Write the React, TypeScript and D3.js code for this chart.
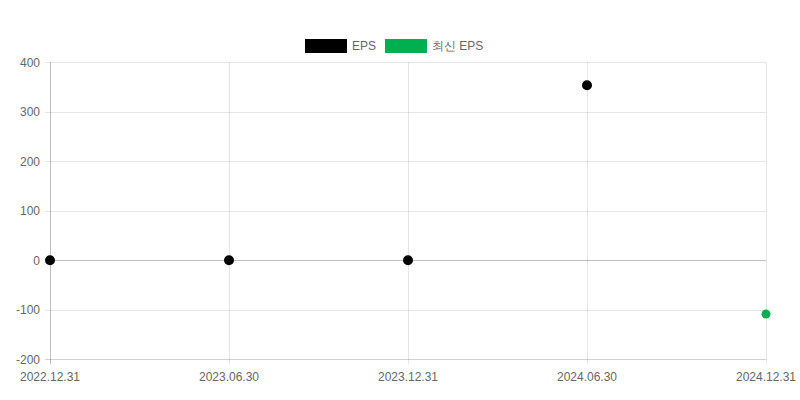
import { useEffect, useRef } from "react"
import * as d3 from "d3"

const categories = ["2022.12.31", "2023.06.30", "2023.12.31", "2024.06.30", "2024.12.31"]
const epsValues: (number | null)[] = [0, 0, 0, 353.5, null]
const latestEpsValues: (number | null)[] = [null, null, null, null, -108.5]
const yTicks = [-200, -100, 0, 100, 200, 300, 400]

const FONT = "'Liberation Sans', Arial, Helvetica, sans-serif"
const GRID = "rgba(0,0,0,0.1)"
const AXIS = "rgba(0,0,0,0.25)"
const BASE = "rgba(0,0,0,0.18)"
const TEXT = "#666"

const App = () => {
  const ref = useRef<SVGSVGElement>(null)

  useEffect(() => {
    if (!ref.current) return
    const svg = d3.select(ref.current)
    svg.selectAll("*").remove()

    const left = 50
    const right = 766
    const top = 62.3
    const bottom = 359.3

    const x = d3.scalePoint<string>().domain(categories).range([left, right])
    const y = d3.scaleLinear().domain([-200, 400]).range([bottom, top])

    // horizontal grid
    const g = svg.append("g")
    g.selectAll("line.hgrid")
      .data(yTicks)
      .join("line")
      .attr("x1", left - 5)
      .attr("x2", right)
      .attr("y1", (d) => Math.round(y(d)) + 0.5)
      .attr("y2", (d) => Math.round(y(d)) + 0.5)
      .attr("stroke", (d) => (d === 0 ? AXIS : d === -200 ? BASE : GRID))
      .attr("stroke-width", 1)

    // vertical grid
    g.selectAll("line.vgrid")
      .data(categories)
      .join("line")
      .attr("x1", (d) => Math.round(x(d)!) + 0.5)
      .attr("x2", (d) => Math.round(x(d)!) + 0.5)
      .attr("y1", top)
      .attr("y2", bottom + 5)
      .attr("stroke", (d, i) => (i === 0 ? AXIS : GRID))

    // y labels
    g.selectAll("text.ylab")
      .data(yTicks)
      .join("text")
      .attr("x", left - 10)
      .attr("y", (d) => y(d))
      .attr("dy", "0.35em")
      .attr("text-anchor", "end")
      .attr("font-family", FONT)
      .attr("font-size", 12)
      .attr("fill", TEXT)
      .text((d) => d)

    // x labels
    g.selectAll("text.xlab")
      .data(categories)
      .join("text")
      .attr("x", (d) => x(d)!)
      .attr("y", bottom + 22)
      .attr("text-anchor", "middle")
      .attr("font-family", FONT)
      .attr("font-size", 12)
      .attr("fill", TEXT)
      .text((d) => d)

    // points
    const series = [
      { values: epsValues, color: "#000000", r: 5 },
      { values: latestEpsValues, color: "#00b050", r: 4.5 },
    ]
    series.forEach((s) => {
      svg
        .append("g")
        .selectAll("circle")
        .data(categories.map((c, i) => ({ c, v: s.values[i] })).filter((d) => d.v !== null))
        .join("circle")
        .attr("cx", (d) => x(d.c)!)
        .attr("cy", (d) => y(d.v as number))
        .attr("r", s.r)
        .attr("fill", s.color)
    })

    // legend
    const legend = [
      { label: "EPS", color: "#000000", x: 305 },
      { label: "최신 EPS", color: "#00b050", x: 385 },
    ]
    const lg = svg.append("g")
    legend.forEach((l) => {
      lg.append("rect")
        .attr("x", l.x)
        .attr("y", 39)
        .attr("width", 42)
        .attr("height", 14)
        .attr("fill", l.color)
      lg.append("text")
        .attr("x", l.x + 47)
        .attr("y", 46)
        .attr("dy", "0.35em")
        .attr("font-family", FONT)
        .attr("font-size", 12)
        .attr("fill", TEXT)
        .text(l.label)
    })
  }, [])

  return (
    <svg
      ref={ref}
      width={800}
      height={400}
      style={{ position: "absolute", left: 0, top: 0 }}
    />
  )
}

export default App
